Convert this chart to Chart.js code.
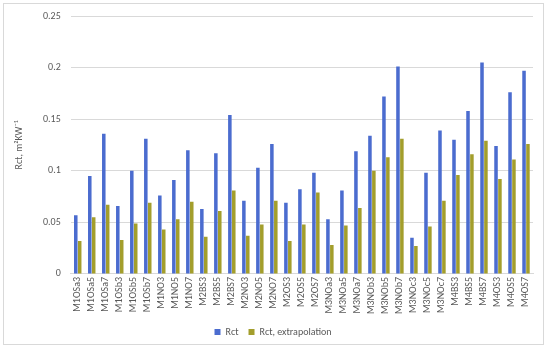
<!DOCTYPE html>
<html>
<head>
<meta charset="utf-8">
<script src="https://cdn.jsdelivr.net/npm/chart.js@4/dist/chart.umd.min.js"></script>
<style>
  html, body { margin: 0; padding: 0; background: #fff; }
  #wrap { position: absolute; left: 0; top: 0; width: 550px; height: 353px; }
  #frame { position: absolute; left: 3px; top: 3px; width: 541px; height: 342px; border: 1px solid #d9d9d9; box-sizing: border-box; pointer-events: none; }
</style>
</head>
<body>
<div id="wrap"><canvas id="c" width="550" height="353"></canvas></div>
<div id="frame"></div>
<script>
const categories = ["M1OSa3","M1OSa5","M1OSa7","M1OSb3","M1OSb5","M1OSb7","M1NO3","M1NO5","M1NO7",
  "M2BS3","M2BS5","M2BS7","M2NO3","M2NO5","M2NO7","M2OS3","M2OS5","M2OS7",
  "M3NOa3","M3NOa5","M3NOa7","M3NOb3","M3NOb5","M3NOb7","M3NOc3","M3NOc5","M3NOc7",
  "M4BS3","M4BS5","M4BS7","M4OS3","M4OS5","M4OS7"];
const rct = [0.057,0.095,0.136,0.066,0.100,0.131,0.076,0.091,0.120,
  0.063,0.117,0.154,0.071,0.103,0.126,0.069,0.082,0.098,
  0.053,0.081,0.119,0.134,0.172,0.201,0.035,0.098,0.139,
  0.130,0.158,0.205,0.124,0.176,0.197];
const rctExtrapolation = [0.032,0.055,0.067,0.033,0.049,0.069,0.043,0.053,0.070,
  0.036,0.061,0.081,0.037,0.048,0.071,0.032,0.048,0.079,
  0.028,0.047,0.064,0.100,0.113,0.131,0.027,0.046,0.071,
  0.096,0.116,0.129,0.092,0.111,0.126];
const yTicks = [0, 0.05, 0.1, 0.15, 0.2, 0.25];

const FONT = 'Carlito, "Liberation Sans", Arial, sans-serif';
const GREY = '#595959';

new Chart(document.getElementById('c'), {
  type: 'bar',
  data: {
    labels: categories,
    datasets: [
      { label: 'Rct', data: rct, backgroundColor: '#4B6CCF', borderWidth: 0,
        categoryPercentage: 0.56, barPercentage: 0.9 },
      { label: 'Rct, extrapolation', data: rctExtrapolation, backgroundColor: '#A39E2C', borderWidth: 0,
        categoryPercentage: 0.56, barPercentage: 0.9 }
    ]
  },
  options: {
    responsive: false,
    animation: false,
    devicePixelRatio: 1,
    layout: { padding: { left: 13, right: 17, top: 9, bottom: 6 } },
    plugins: {
      legend: {
        position: 'bottom',
        labels: { boxWidth: 6, boxHeight: 6, padding: 10, color: GREY, font: { family: FONT, size: 10 } }
      },
      tooltip: { enabled: false }
    },
    scales: {
      x: {
        grid: { display: false, drawTicks: false },
        border: { color: '#d9d9d9' },
        ticks: { autoSkip: false, maxRotation: 90, minRotation: 90, padding: 3, color: GREY,
                 font: { family: FONT, size: 10 } }
      },
      y: {
        min: 0, max: 0.25,
        afterBuildTicks: (ax) => { ax.ticks = yTicks.map(v => ({ value: v })); },
        grid: { color: '#d9d9d9', drawTicks: false },
        border: { display: false },
        ticks: { padding: 10, color: GREY, font: { family: FONT, size: 10 },
                 callback: (v) => String(Number(Number(v).toFixed(2))) },
        title: { display: true, text: 'Rct, m\u00B2KW\u207B\u00B9', color: GREY,
                 font: { family: FONT, size: 10 }, padding: { top: 0, bottom: 8 } }
      }
    }
  }
});
</script>
</body>
</html>
